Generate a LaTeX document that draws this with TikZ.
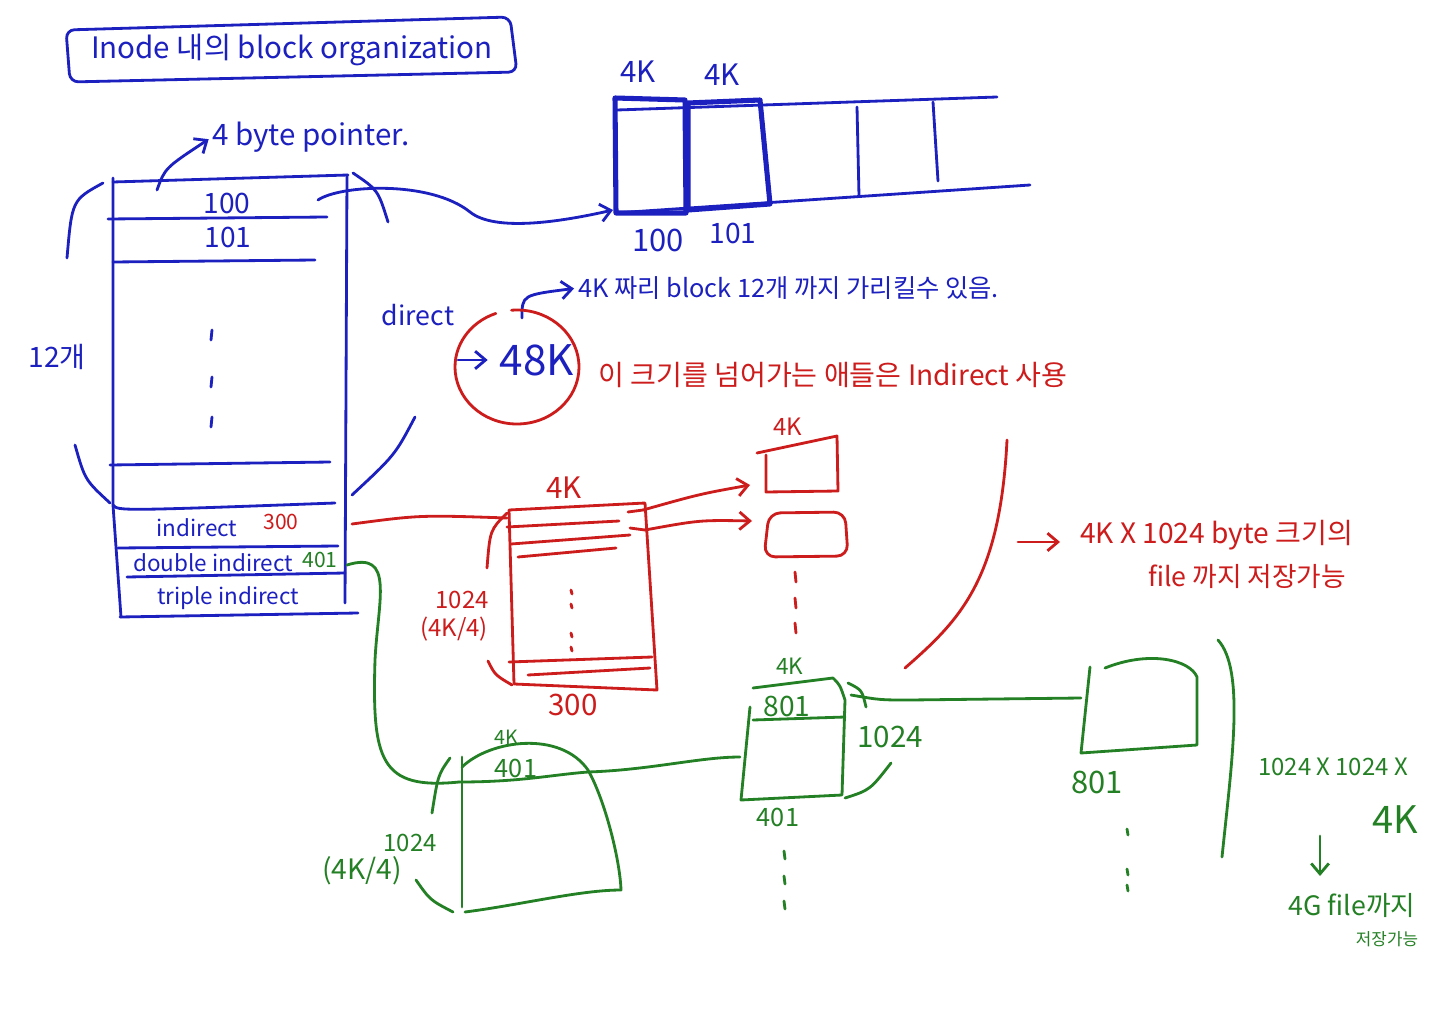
\documentclass[tikz,border=0pt]{standalone}
\usepackage{fontspec}
\setmainfont{Noto Sans CJK KR}
\usetikzlibrary{positioning,arrows.meta}
\definecolor{penblue}{RGB}{28,32,190}
\definecolor{penred}{RGB}{205,28,28}
\definecolor{pengreen}{RGB}{36,128,36}
\newcommand{\penfont}[1]{\fontsize{#1}{#1}\selectfont}

\begin{document}
\begin{tikzpicture}[x=0.25mm,y=-0.25mm,>={Straight Barb[length=2.6mm,width=4.4mm]},
    pen/.style={line width=2pt,line cap=round,line join=round},
    bluepen/.style={pen,draw=penblue},
    redpen/.style={pen,draw=penred},
    greenpen/.style={pen,draw=pengreen},
    boldpen/.style={pen,draw=penblue,line width=3.6pt},
    bluetxt/.style={inner sep=0pt,text=penblue},
    redtxt/.style={inner sep=0pt,text=penred},
    greentxt/.style={inner sep=0pt,text=pengreen}]
\useasboundingbox[fill=white] (0,0) rectangle (1440,1018);

        % title
        \draw[bluepen,rounded corners=6] (66,30) -- (510,17) -- (517,72) -- (70,82) -- cycle;
        \node[bluetxt,font=\penfont{21}] (title) at (292,50) {Inode 내의 block organization};

        % inode table
        \draw[bluepen] (113,178) -- (113,505) -- (121,617);
        \draw[bluepen] (347,175) -- (345,603);
        \draw[bluepen] (113,182) -- (348,175);
        \draw[bluepen] (108,219) -- (327,217);
        \draw[bluepen] (113,262) -- (315,260);
        \draw[bluepen] (110,465) -- (330,462);
        \draw[bluepen] (113,505) .. controls (118,511) .. (335,503);
        \draw[bluepen] (118,548) -- (338,546);
        \draw[bluepen] (127,577) -- (345,573);
        \draw[bluepen] (120,617) -- (358,613);
        \node[bluetxt,font=\penfont{20}] (r100) at (227,203) {100};
        \node[bluetxt,font=\penfont{20}] (r101) at (228,237) {101};
        \foreach \y in {335,382,422}
            \draw[bluepen] (212,\y-5) -- (211,\y+5);
        \node[bluetxt,font=\penfont{16}] (rind) at (197,528) {indirect};
        \node[redtxt,font=\penfont{15}] (rind300) at (281,522) {300};
        \node[bluetxt,font=\penfont{16}] (rdbl) at (213,563) {double indirect};
        \node[greentxt,font=\penfont{15}] (rdbl401) at (320,560) {401};
        \node[bluetxt,font=\penfont{16}] (rtri) at (228,598) {triple indirect};

        % brackets round the direct rows
        \draw[bluepen] (103,183) .. controls (72,200) .. (67,258);
        \draw[bluepen] (75,445) .. controls (85,480) .. (110,503);
        \node[bluetxt,font=\penfont{20}] (cnt12) at (57,357) {12개};
        \draw[bluepen] (353,173) .. controls (378,190) .. (388,222);
        \draw[bluepen] (415,417) .. controls (395,455) .. (352,495);
        \node[bluetxt,font=\penfont{19}] (dirlbl) at (418,315) {direct};

        % 4 byte pointer
        \node[bluetxt,font=\penfont{21},anchor=west] (ptrlbl) at (212,137) {4 byte pointer.};
        \coordinate (ptrtail) at (157,190);
        \draw[bluepen,->,shorten >=1mm] (ptrtail) .. controls (165,168) .. (ptrlbl.west);

        % disk blocks
        \draw[bluepen] (617,110) -- (997,97);
        \draw[bluepen] (615,213) -- (1030,185);
        \draw[boldpen] (615,98) -- (685,100) -- (686,213) -- (616,213) -- cycle;
        \draw[boldpen] (688,103) -- (760,100) -- (770,204) -- (688,210) -- cycle;
        \draw[bluepen] (857,107) -- (859,196);
        \draw[bluepen] (933,102) -- (938,181);
        \node[bluetxt,font=\penfont{21}] (d4ka) at (638,72) {4K};
        \node[bluetxt,font=\penfont{21}] (d4kb) at (722,75) {4K};
        \node[bluetxt,font=\penfont{22}] (d100) at (658,240) {100};
        \node[bluetxt,font=\penfont{20}] (d101) at (733,233) {101};
        \coordinate (p100) at (318,200);
        \coordinate (b100) at (613,210);
        \draw[bluepen,->] (p100) .. controls (340,185) and (430,180) .. (470,212)
            .. controls (495,232) and (560,222) .. (b100);

        % 12 blocks note
        \node[bluetxt,font=\penfont{18},anchor=west] (cap12) at (578,288) {4K 짜리 block 12개 까지 가리킬수 있음.};
        \coordinate (captail) at (522,318);
        \draw[bluepen,->,shorten >=1mm] (captail) .. controls (522,295) .. (cap12.west);

        % 48K
        \draw[redpen] (517,367) ++(265:62 and 57) arc[start angle=265,end angle=610,x radius=62,y radius=57];
        \node[bluetxt,font=\penfont{30}] (k48) at (537,360) {48K};
        \coordinate (k48tail) at (458,360);
        \draw[bluepen,->,shorten >=3mm] (k48tail) -- (k48.west);
        \node[redtxt,font=\penfont{20},anchor=west] (bignote) at (598,375) {이 크기를 넘어가는 애들은 Indirect 사용};

        % single indirect
        \coordinate (indptr) at (352,524);
        \coordinate (ibin) at (507,518);
        \draw[redpen] (indptr) .. controls (420,515) .. (ibin);
        \draw[redpen] (509,510) -- (645,503) -- (657,690) -- (514,684) -- cycle;
        \draw[redpen] (507,527) -- (619,521);
        \draw[redpen] (511,544) -- (630,535);
        \draw[redpen] (518,557) -- (616,548);
        \draw[redpen] (509,662) -- (652,657);
        \draw[redpen] (528,675) -- (650,668);
        \draw[redpen] (628,512) -- (643,510);
        \draw[redpen] (630,528) -- (645,530);
        \foreach \y in {592,606,635,649}
            \draw[redpen] (571,\y-2) -- (572,\y+2);
        \draw[redpen] (507,513) .. controls (490,530) .. (487,568);
        \draw[redpen] (488,661) .. controls (495,675) .. (512,685);
        \node[redtxt,font=\penfont{21}] (ind4k) at (564,488) {4K};
        \node[redtxt,font=\penfont{17}] (ind1024) at (462,600) {1024};
        \node[redtxt,font=\penfont{17},below=2mm of ind1024,xshift=-2mm] (indquot) {(4K/4)};
        \node[redtxt,font=\penfont{21}] (ind300) at (573,705) {300};

        % data blocks
        \coordinate (ibrow1) at (643,510);
        \coordinate (ibrow2) at (645,530);
        \coordinate (dA) at (750,485);
        \coordinate (dB) at (752,521);
        \draw[redpen,->] (ibrow1) .. controls (700,494) .. (dA);
        \draw[redpen,->] (ibrow2) .. controls (700,520) .. (dB);
        \draw[redpen] (757,453) -- (837,436) -- (838,491) -- (766,492) -- (766,455);
        \draw[redpen,rounded corners=8] (769,513) -- (845,512) -- (848,556) -- (764,557) -- cycle;
        \node[redtxt,font=\penfont{17}] (dat4k) at (788,427) {4K};
        \foreach \y in {577,603,628}
            \draw[redpen] (795,\y-5) -- (796,\y+5);

        % file size note
        \draw[redpen] (1007,440) .. controls (1000,580) and (960,620) .. (905,668);
        \node[redtxt,font=\penfont{20},anchor=west] (farA) at (1080,535) {4K X 1024 byte 크기의};
        \node[redtxt,font=\penfont{19},anchor=west] (farB) at (1148,577) {file 까지 저장가능};
        \coordinate (farstart) at (1018,542);
        \draw[redpen,->,shorten >=5mm] (farstart) -- (farA.west |- farstart);

        % double indirect
        \coordinate (dblptr) at (347,565);
        \coordinate (l1in) at (459,782);
        \draw[greenpen] (dblptr) .. controls (395,550) and (378,600) .. (375,660)
            .. controls (372,760) and (380,790) .. (l1in);
        \draw[greenpen] (462,757) -- (462,907);
        \draw[greenpen] (462,767) .. controls (490,740) and (560,730) .. (588,770)
            .. controls (605,800) and (620,860) .. (621,890)
            .. controls (580,890) and (520,905) .. (465,912);
        \draw[greenpen] (l1in) .. controls (520,782) and (550,775) .. (588,772);
        \draw[greenpen] (450,758) .. controls (438,775) .. (432,813);
        \draw[greenpen] (416,880) .. controls (430,900) .. (453,912);
        \node[greentxt,font=\penfont{14}] (l1k) at (506,737) {4K};
        \node[greentxt,font=\penfont{18}] (l1row) at (516,768) {401};
        \node[greentxt,font=\penfont{17}] (l1size) at (410,843) {1024};
        \node[greentxt,font=\penfont{20},below=1mm of l1size,xshift=-12mm] (l1quot) {(4K/4)};

        \coordinate (l1out) at (588,772);
        \coordinate (l2in) at (740,757);
        \draw[greenpen] (l1out) .. controls (650,770) and (700,757) .. (l2in);
        \draw[greenpen] (750,707) -- (741,800) -- (842,795) -- (845,700)
            .. controls (840,685) .. (833,678) -- (753,688);
        \draw[greenpen] (753,720) -- (845,717);
        \draw[greenpen] (848,683) .. controls (862,690) .. (866,707);
        \draw[greenpen] (891,763) .. controls (870,790) .. (845,798);
        \node[greentxt,font=\penfont{16}] (l2k) at (790,666) {4K};
        \node[greentxt,font=\penfont{20}] (l2row) at (787,706) {801};
        \node[greentxt,font=\penfont{21}] (l2size) at (890,737) {1024};
        \node[greentxt,font=\penfont{18}] (l2num) at (778,817) {401};
        \foreach \y in {855,880,905}
            \draw[greenpen] (784,\y-4) -- (785,\y+4);

        \coordinate (l2out) at (851,695);
        \coordinate (l3in) at (1081,698);
        \draw[greenpen] (l2out) .. controls (880,700) .. (910,700) -- (l3in);
        \draw[greenpen] (1090,667) -- (1081,753) -- (1197,745) -- (1197,677)
            .. controls (1190,660) and (1150,650) .. (1105,668);
        \node[greentxt,font=\penfont{22}] (l3num) at (1097,782) {801};
        \foreach \y in {832,872,888}
            \draw[greenpen] (1127,\y-3) -- (1128,\y+3);

        % 4G note
        \draw[greenpen] (1218,640) .. controls (1245,670) and (1232,760) .. (1222,857);
        \node[greentxt,font=\penfont{17}] (sumA) at (1333,767) {1024 X 1024 X};
        \node[greentxt,font=\penfont{27}] (sumB) at (1395,820) {4K};
        \coordinate (sumtop) at (1320,836);
        \coordinate (sumbot) at (1320,876);
        \draw[greenpen,->] (sumtop) -- (sumbot);
        \node[greentxt,font=\penfont{19}] (sumC) at (1352,905) {4G file까지};
        \node[greentxt,font=\penfont{12}] (sumD) at (1387,939) {저장가능};

\end{tikzpicture}
\end{document}
